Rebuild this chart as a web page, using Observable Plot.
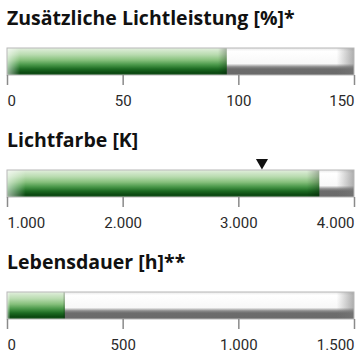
<!DOCTYPE html>
<html><head><meta charset="utf-8">
<script src="https://cdn.jsdelivr.net/npm/d3@7"></script>
<script src="https://cdn.jsdelivr.net/npm/@observablehq/plot@0.6"></script>
<style>
body{margin:0;background:#fff;width:362px;height:362px;overflow:hidden}
.panel{position:relative;height:122px}
.title{position:absolute;left:7px;top:4px;font-family:"Open Sans",Lato,sans-serif;font-weight:700;font-size:19.5px;color:#111;white-space:nowrap}
.plot{position:absolute;left:0;top:30px}
</style></head>
<body>
<svg width="0" height="0" style="position:absolute">
<defs>
<linearGradient id="bgGrad" x1="0" y1="0" x2="0" y2="1">
<stop offset="0" stop-color="#e8e8e8"/><stop offset="0.12" stop-color="#ffffff"/>
<stop offset="0.58" stop-color="#f8f8f8"/><stop offset="0.70" stop-color="#8a8a8a"/>
<stop offset="0.78" stop-color="#6c6c6c"/><stop offset="1" stop-color="#6a6a6a"/>
</linearGradient>
<linearGradient id="bgEnd" x1="0" y1="0" x2="1" y2="0">
<stop offset="0.95" stop-color="#777" stop-opacity="0"/><stop offset="1" stop-color="#777" stop-opacity="0.6"/>
</linearGradient>
<linearGradient id="greenGrad" x1="0" y1="0" x2="0" y2="1">
<stop offset="0" stop-color="#e2efdd"/><stop offset="0.25" stop-color="#b8dbaf"/>
<stop offset="0.45" stop-color="#86c07c"/><stop offset="0.62" stop-color="#4a984a"/>
<stop offset="0.78" stop-color="#1c6a22"/><stop offset="0.92" stop-color="#0b4811"/>
<stop offset="1" stop-color="#1c5821"/>
</linearGradient>
<linearGradient id="greenEnd" x1="0" y1="0" x2="1" y2="0">
<stop offset="0" stop-color="#fff" stop-opacity="0.6"/><stop offset="0.06" stop-color="#fff" stop-opacity="0"/>
<stop offset="0.96" stop-color="#000" stop-opacity="0"/><stop offset="1" stop-color="#000" stop-opacity="0.25"/>
</linearGradient>
</defs>
</svg>
<div id="root"></div>
<script>
// Data
const titles = ["Zusätzliche Lichtleistung [%]*", "Lichtfarbe [K]", "Lebensdauer [h]**"];
const domains = [[0, 150], [1000, 4000], [0, 1500]];
const values = [95, 3700, 250];
const markers = [null, 3200, null];
const ticks = [[0, 50, 100, 150], [1000, 2000, 3000, 4000], [0, 500, 1000, 1500]];

const de = d3.formatLocale({decimal: ",", thousands: ".", grouping: [3], currency: ["", "€"]});
const fmt = de.format(",");

const root = document.getElementById("root");
titles.forEach((t, i) => {
  const panel = document.createElement("div");
  panel.className = "panel";
  const title = document.createElement("div");
  title.className = "title";
  title.textContent = t;
  panel.appendChild(title);
  const [lo, hi] = domains[i];
  const tk = ticks[i];
  const textStyle = {fontFamily: "Roboto, sans-serif", fontSize: 15, fill: "#2a2a2a", frameAnchor: "bottom", lineAnchor: "top", dy: 20, text: d => fmt(d), x: d => d};
  const marks = [
    Plot.rectX([0], {x1: lo, x2: hi, fill: "url(#bgGrad)"}),
    Plot.rectX([0], {x1: lo, x2: hi, fill: "url(#bgEnd)"}),
    Plot.rectX([values[i]], {x1: lo, x2: d => d, fill: "url(#greenGrad)"}),
    Plot.rectX([values[i]], {x1: lo, x2: d => d, fill: "url(#greenEnd)"}),
    Plot.rectX([0], {x1: lo, x2: hi, fill: "none", stroke: "#b8b8b8", strokeWidth: 1}),
    Plot.axisX(tk, {tickSize: 10, tickFormat: () => "", stroke: "#8a8a8a", strokeWidth: 1.5}),
    Plot.text(tk.slice(0, 1), {...textStyle, textAnchor: "start"}),
    Plot.text(tk.slice(1, -1), {...textStyle, textAnchor: "middle"}),
    Plot.text(tk.slice(-1), {...textStyle, textAnchor: "end"})
  ];
  if (markers[i] != null) {
    marks.push(Plot.dot([markers[i]], {x: d => d, frameAnchor: "top", dy: -8, symbol: "triangle", rotate: 180, r: 4.5, fill: "#111", stroke: "none"}));
  }
  const plot = Plot.plot({
    width: 362, height: 92,
    marginLeft: 7, marginRight: 8, marginTop: 18, marginBottom: 47,
    x: {domain: [lo, hi]},
    marks
  });
  plot.classList.add("plot");
  plot.style.overflow = "visible";
  panel.appendChild(plot);
  root.appendChild(panel);
});
</script>
</body></html>
